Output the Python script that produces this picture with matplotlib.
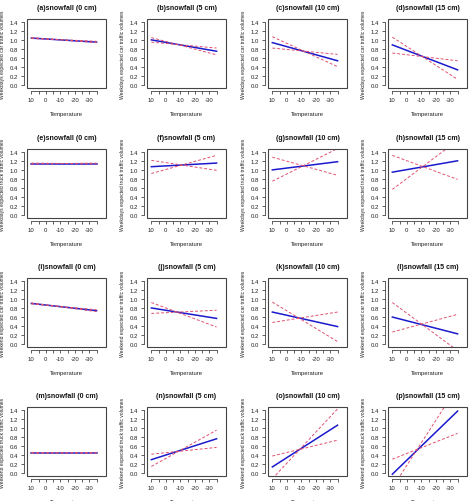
import matplotlib
matplotlib.use("Agg")
import matplotlib.pyplot as plt
from matplotlib.patches import Rectangle

plt.rcParams.update({"font.family": ["Liberation Sans", "DejaVu Sans"], "font.size": 5})

# temperature endpoints (deg C) of every fitted line
temp = [10, -35]
snow = [0, 5, 10, 15]
letters = "abcdefghijklmnop"
ylabels = ["Weekdays expected car traffic volumes",
           "Weekdays expected truck traffic volumes",
           "Weekend expected car traffic volumes",
           "Weekend expected truck traffic volumes"]

# estimate (blue) and two dashed bounds, value at temp[0] and temp[1]
est = [[1.04, 0.95], [1.00, 0.75], [0.94, 0.54], [0.89, 0.34],
       [1.14, 1.14], [1.07, 1.15], [1.00, 1.18], [0.95, 1.20],
       [0.90, 0.74], [0.80, 0.57], [0.71, 0.39], [0.60, 0.23],
       [0.45, 0.45], [0.30, 0.76], [0.14, 1.06], [-0.02, 1.37]]
bound_a = [[1.05, 0.94], [1.05, 0.67], [1.07, 0.41], [1.06, 0.13],
           [1.15, 1.13], [1.21, 0.99], [1.28, 0.88], [1.32, 0.79],
           [0.91, 0.72], [0.92, 0.38], [0.93, 0.06], [0.92, -0.14],
           [0.46, 0.44], [0.42, 0.57], [0.38, 0.73], [0.31, 0.88]]
bound_b = [[1.03, 0.97], [0.95, 0.82], [0.82, 0.68], [0.71, 0.54],
           [1.13, 1.15], [0.92, 1.32], [0.75, 1.47], [0.57, 1.65],
           [0.89, 0.76], [0.68, 0.75], [0.48, 0.71], [0.27, 0.66],
           [0.44, 0.46], [0.15, 0.95], [-0.12, 1.42], [-0.32, 1.91]]

W, H = 469, 502
col_left = [27, 147, 268, 388]
row_top = [20, 150, 279, 408]
bw, bh = 79, 69
AX = "#444444"

fig = plt.figure(figsize=(W / 100, H / 100), dpi=100)
for i in range(16):
    r, c = divmod(i, 4)
    ax = fig.add_axes([col_left[c] / W, 1 - (row_top[r] + bh) / H, bw / W, bh / H])
    ax.plot(temp, est[i], color="#1a1acc", lw=1.1, zorder=3)
    ax.plot(temp, bound_a[i], color="#e0506e", lw=0.7, ls=(0, (3, 2)), zorder=4)
    ax.plot(temp, bound_b[i], color="#e0506e", lw=0.7, ls=(0, (3, 2)), zorder=4)
    ax.set_xlim(13, -41.5)
    ax.set_ylim(-0.06, 1.46)
    ax.set_xticks(range(10, -36, -5))
    ax.set_xticklabels(["10" if t == 10 else (str(t) if t % 10 == 0 else "") for t in range(10, -36, -5)])
    ax.set_yticks([0, 0.2, 0.4, 0.6, 0.8, 1.0, 1.2, 1.4])
    ax.set_yticklabels(["0.0", "0.2", "0.4", "0.6", "0.8", "1.0", "1.2", "1.4"])
    for s in ("top", "right"):
        ax.spines[s].set_visible(False)
    for s in ("left", "bottom"):
        ax.spines[s].set_position(("outward", 2.5))
        ax.spines[s].set_color(AX)
        ax.spines[s].set_linewidth(0.6)
    ax.spines["left"].set_bounds(0, 1.4)
    ax.spines["bottom"].set_bounds(10, -35)
    ax.add_patch(Rectangle((0, 0), 1, 1, transform=ax.transAxes, fill=False,
                           ec=AX, lw=0.8, clip_on=False, zorder=5))
    ax.tick_params(length=2.2, width=0.6, color=AX, labelsize=4.3, pad=1.5, labelcolor="#222")
    ax.set_xlabel("Temperature", fontsize=4.2, color="#222")
    ax.xaxis.set_label_coords(0.5, -0.33)
    ax.set_ylabel(ylabels[r], fontsize=3.6, color="#222")
    ax.yaxis.set_label_coords(-0.28, 0.5)
    ax.text(0.5, 1.16, f"({letters[i]})snowfall ({snow[c]} cm)", transform=ax.transAxes,
            ha="center", va="center", fontsize=5, fontweight="bold", color="#111")

fig.savefig("out.png", dpi=100)
